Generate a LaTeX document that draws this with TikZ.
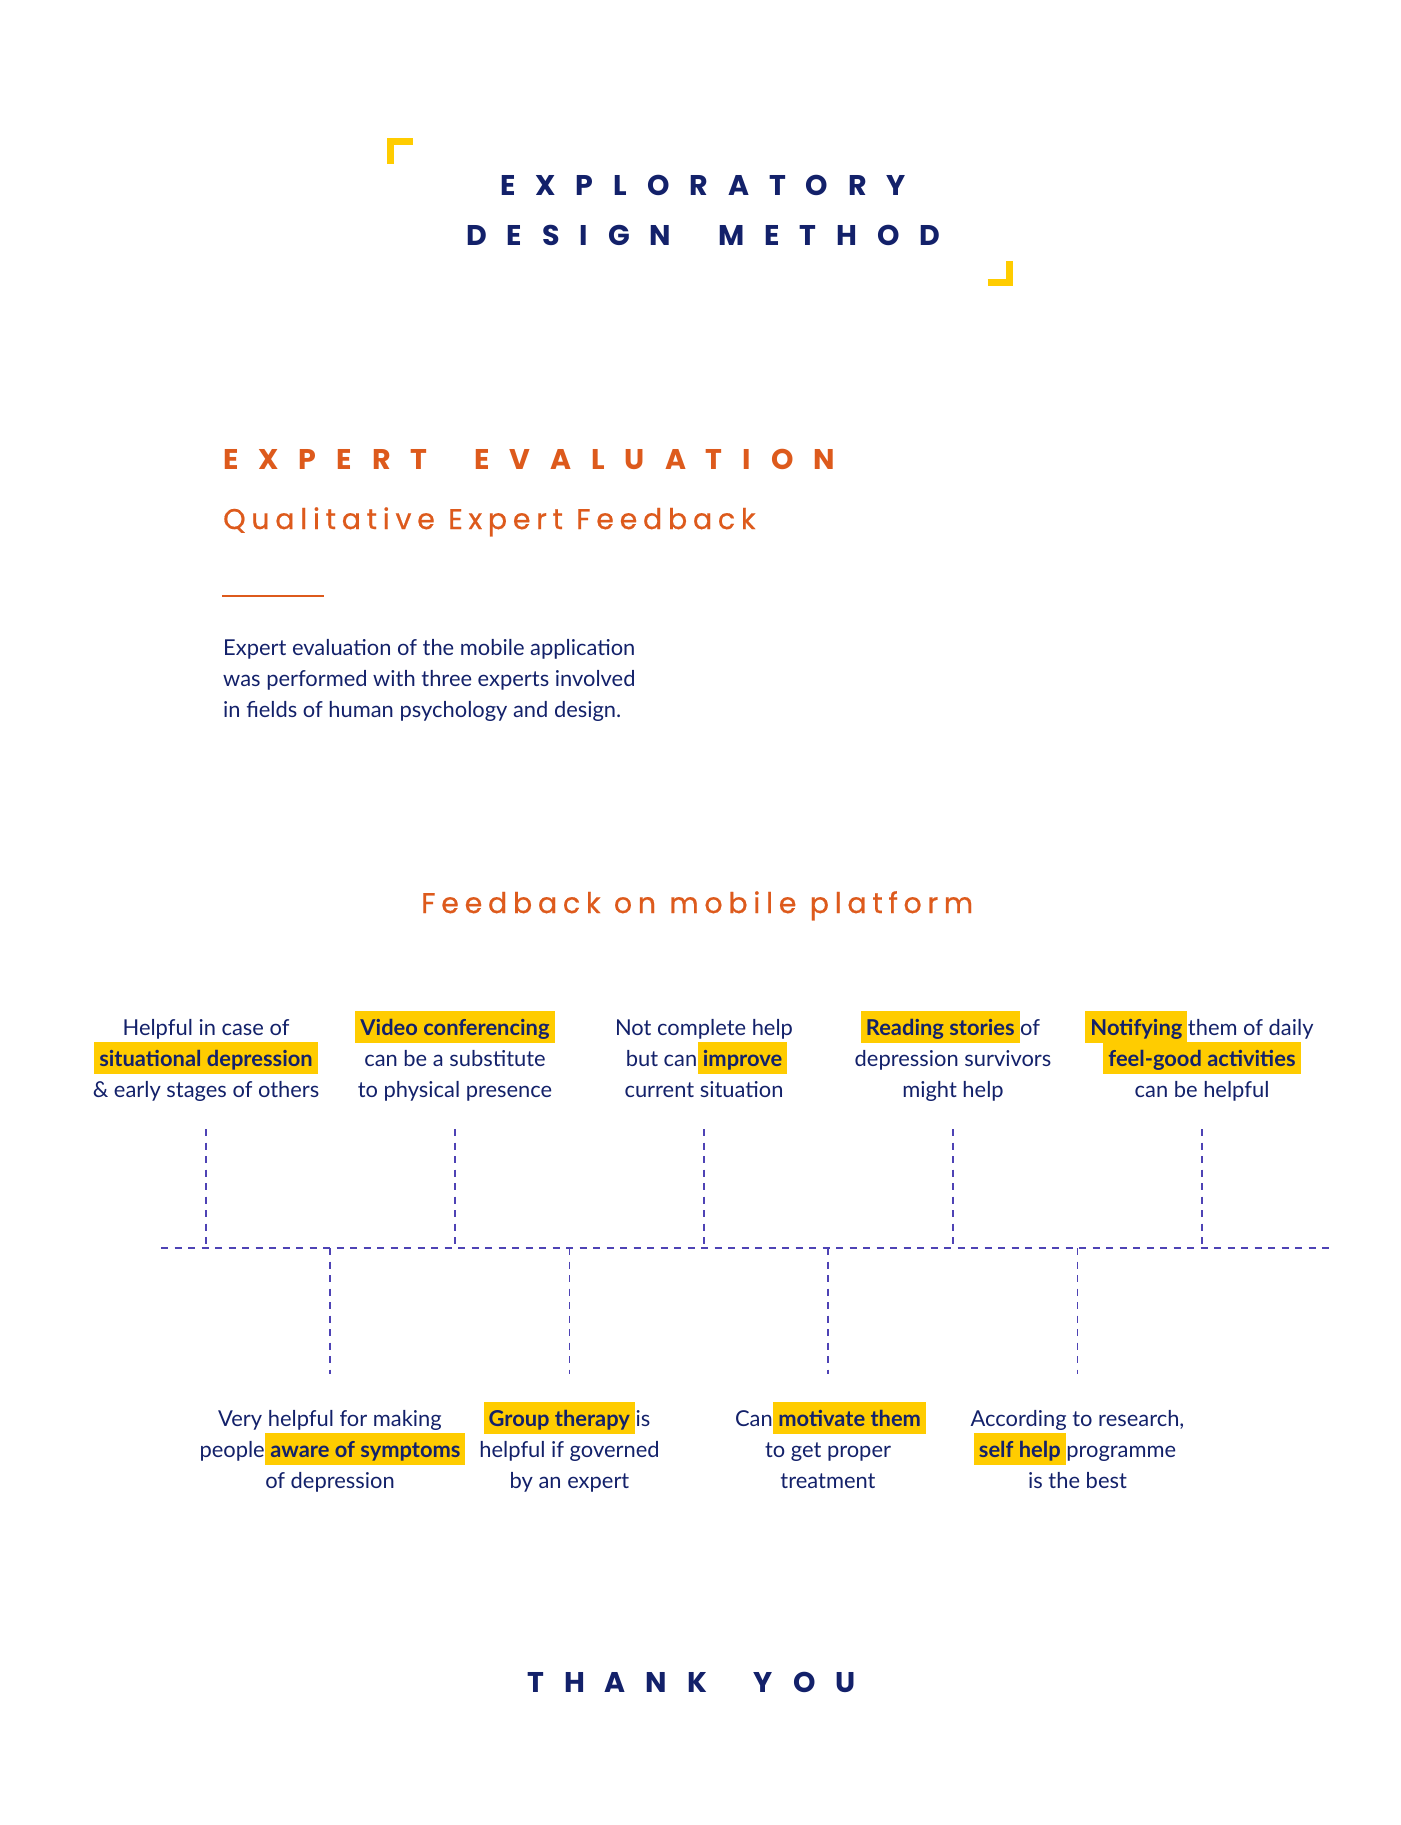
\documentclass[tikz,border=0pt]{standalone}
\usepackage{fontspec}
\setmainfont{Lato}
\newfontfamily\headfont{Poppins}
\definecolor{navy}{HTML}{13216A}
\definecolor{orng}{HTML}{DD5A1C}
\definecolor{hly}{HTML}{FFCC00}
\definecolor{dashc}{HTML}{4E43B5}
\newsavebox\hlsave
\newcommand\hlw[1]{\sbox\hlsave{\bfseries #1}%
  \smash{\makebox[0pt][l]{\hspace{-5pt}\textcolor{hly}{\rule[-7.5pt]{\dimexpr\wd\hlsave+10pt\relax}{31.5pt}}}}\usebox\hlsave}
\newcommand\wgap{\hspace{21pt} }
\tikzset{
  bigtitle/.style={inner sep=0pt, anchor=base west, font=\headfont\bfseries\fontsize{28.5}{30}\selectfont\addfontfeature{LetterSpace=70}},
  subtitle/.style={inner sep=0pt, anchor=base west, text=orng, font=\headfont\fontsize{28.5}{30}\selectfont\addfontfeature{LetterSpace=20,FakeBold=0.6}},
  body/.style={inner sep=0pt, anchor=base, align=center, text=navy, font=\fontsize{21.9}{31}\selectfont},
  para/.style={inner sep=0pt, anchor=base west, align=left, text=navy, font=\fontsize{21.9}{31}\selectfont},
  dl/.style={draw=dashc, line width=1.3pt, dash pattern=on 7pt off 6.5pt},
  corner/.style={draw=hly, line width=7pt, miter limit=10},
}
\begin{document}
\begin{tikzpicture}[x=1pt,y=-1pt]
\useasboundingbox (0,0) rectangle (1400,1825);
\fill[white] (0,0) rectangle (1400,1825);
% title corners
\draw[corner] (390.5,163.7) -- (390.5,141.8) -- (412.5,141.8);
\draw[corner] (987.5,282.5) -- (1009.5,282.5) -- (1009.5,260.7);
\node[bigtitle, text=navy] (t1) at (500,195) {EXPLORATORY};
\node[bigtitle, text=navy] (t2) at (466,245) {DESIGN\wgap METHOD};
% expert evaluation
\node[bigtitle, text=orng] (ee) at (223,469) {EXPERT\wgap EVALUATION};
\node[subtitle] (qef) at (223,529) {Qualitative Expert Feedback};
\coordinate (ruleL) at (222,596);
\coordinate (ruleR) at (324,596);
\draw[orng, line width=1.5pt] (ruleL) -- (ruleR);
\node[para] (intro) at (223,717) {Expert evaluation of the mobile application\\was performed with three experts involved\\in fields of human psychology and design.};
\node[subtitle] (fb) at (421,913) {Feedback on mobile platform};
% top row
\node[body] (u1) at (206,1097) {Helpful in case of\\\hlw{situational depression}\\\& early stages of others};
\node[body] (u2) at (455,1097) {\hlw{Video conferencing}\\can be a substitute\\to physical presence};
\node[body] (u3) at (704,1097) {Not complete help\\but can \hlw{improve}\\current situation};
\node[body] (u4) at (953,1097) {\hlw{Reading stories} of\\depression survivors\\might help};
\node[body] (u5) at (1202,1097) {\hlw{Notifying} them of daily\\\hlw{feel-good activities}\\can be helpful};
% bottom row
\node[body] (d1) at (330,1488) {Very helpful for making\\people \hlw{aware of symptoms}\\of depression};
\node[body] (d2) at (569.5,1488) {\hlw{Group therapy} is\\helpful if governed\\by an expert};
\node[body] (d3) at (828,1488) {Can \hlw{motivate them}\\to get proper\\treatment};
\node[body] (d4) at (1077.5,1488) {According to research,\\\hlw{self help} programme\\is the best};
% timeline
\coordinate (hL) at (161,1248);
\coordinate (hR) at (1332,1248);
\draw[dl] (hL) -- (hR);
\foreach \i/\x in {1/206,2/455,3/704,4/953,5/1202}{
  \coordinate (ua\i) at (\x,1129);
  \coordinate (ub\i) at (\x,1248);
  \draw[dl] (ua\i) -- (ub\i);
}
\foreach \i/\x in {1/330,2/569.5,3/828,4/1077.5}{
  \coordinate (da\i) at (\x,1248);
  \coordinate (db\i) at (\x,1374);
  \draw[dl] (da\i) -- (db\i);
}
\node[bigtitle, text=navy] (ty) at (527,1692) {THANK\wgap YOU};
\end{tikzpicture}
\end{document}
